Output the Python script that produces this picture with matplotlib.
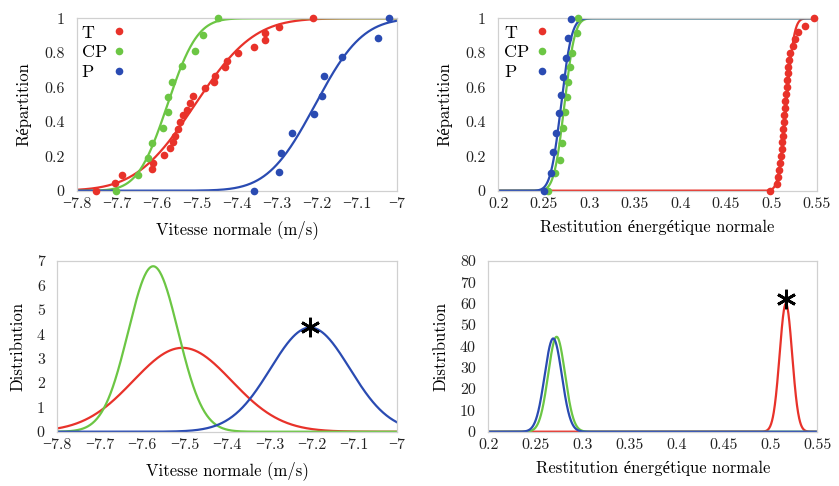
import math
import numpy as np
import matplotlib
matplotlib.use("Agg")
import matplotlib.pyplot as plt

plt.rcParams['font.family'] = ['cmr10', 'Liberation Serif']
plt.rcParams['axes.unicode_minus'] = True

# couleurs des trois familles
names = ['T', 'CP', 'P']
colors = ['#e8322a', '#6cc644', '#2a4bb2']

# vitesse normale : points de la répartition empirique
vit_T_x = [-7.754, -7.706, -7.689, -7.612, -7.611, -7.584, -7.569, -7.560, -7.555, -7.547,
           -7.543, -7.536, -7.526, -7.518, -7.509, -7.480, -7.457, -7.455, -7.430, -7.426,
           -7.397, -7.357, -7.330, -7.330, -7.294, -7.209]
vit_T_y = [0.0, 0.046, 0.09, 0.124, 0.159, 0.205, 0.25, 0.28, 0.318, 0.36,
           0.40, 0.44, 0.47, 0.51, 0.55, 0.595, 0.632, 0.665, 0.715, 0.75,
           0.797, 0.836, 0.874, 0.913, 0.952, 1.0]
vit_CP_x = [-7.703, -7.649, -7.622, -7.612, -7.585, -7.574, -7.572, -7.562, -7.538, -7.504,
            -7.486, -7.447]
vit_CP_y = [0.0, 0.09, 0.19, 0.275, 0.362, 0.455, 0.545, 0.632, 0.723, 0.81,
            0.905, 1.0]
vit_P_x = [-7.357, -7.294, -7.290, -7.263, -7.207, -7.188, -7.182, -7.138, -7.046, -7.018]
vit_P_y = [0.0, 0.11, 0.22, 0.333, 0.443, 0.551, 0.665, 0.774, 0.884, 1.0]

# restitution énergétique normale : points de la répartition empirique
res_T_x = [0.4987, 0.5060, 0.5075, 0.5090, 0.5100, 0.5110, 0.5115, 0.5120, 0.5125, 0.5130,
           0.5140, 0.5145, 0.5150, 0.5155, 0.5160, 0.5170, 0.5175, 0.5180, 0.5190, 0.5195,
           0.5205, 0.5240, 0.5260, 0.5290, 0.5370, 0.5470]
res_T_y = [0.0, 0.04, 0.08, 0.12, 0.16, 0.20, 0.24, 0.28, 0.32, 0.36,
           0.40, 0.44, 0.48, 0.52, 0.56, 0.60, 0.64, 0.68, 0.72, 0.76,
           0.80, 0.84, 0.88, 0.92, 0.955, 1.0]
res_CP_x = [0.2545, 0.2620, 0.2678, 0.2696, 0.2715, 0.2733, 0.2750, 0.2770, 0.2790, 0.2806,
            0.2860, 0.2880]
res_CP_y = [0.0, 0.10, 0.18, 0.275, 0.362, 0.455, 0.545, 0.632, 0.72, 0.797,
            0.913, 1.0]
res_P_x = [0.2502, 0.2576, 0.2598, 0.2635, 0.2670, 0.2686, 0.2708, 0.2744, 0.2763, 0.2796]
res_P_y = [0.0, 0.101, 0.226, 0.333, 0.449, 0.555, 0.661, 0.768, 0.884, 0.994]

# lois normales ajustées (moyenne, écart-type)
vit_mu = [-7.505, -7.574, -7.204]
vit_sigma = [0.116, 0.0588, 0.0934]
res_mu = [0.5167, 0.2727, 0.2691]
res_sigma = [0.00665, 0.00897, 0.00913]

# astérisques
vit_star = (-7.204, 4.3)
res_star = (0.5167, 62.0)

vit_xticks = [-7.8, -7.7, -7.6, -7.5, -7.4, -7.3, -7.2, -7.1, -7.0]
vit_xlabels = ['\u22127.8', '\u22127.7', '\u22127.6', '\u22127.5', '\u22127.4', '\u22127.3',
               '\u22127.2', '\u22127.1', '\u22127']
res_xticks = [0.2, 0.25, 0.3, 0.35, 0.4, 0.45, 0.5, 0.55]
res_xlabels = ['0.2', '0.25', '0.3', '0.35', '0.4', '0.45', '0.5', '0.55']
rep_yticks = [0, 0.2, 0.4, 0.6, 0.8, 1]
rep_ylabels = ['0', '0.2', '0.4', '0.6', '0.8', '1']

erf = np.frompyfunc(math.erf, 1, 1)


def cdf(x, mu, s):
    return 0.5 * (1 + erf((x - mu) / (s * math.sqrt(2))).astype(float))


def pdf(x, mu, s):
    return np.exp(-0.5 * ((x - mu) / s) ** 2) / (s * math.sqrt(2 * math.pi))


def style(ax):
    for sp in ax.spines.values():
        sp.set_color('#d0d0d0')
        sp.set_linewidth(0.9)
    ax.tick_params(length=0, labelsize=11.5, colors='#222222')


def legende(ax, x_txt, x_dot):
    # légende faite à la main : texte à gauche, points alignés en colonne
    for i, y in enumerate([0.915, 0.80, 0.685]):
        ax.text(x_txt, y, names[i], transform=ax.transAxes, fontsize=13,
                ha='left', va='center')
        ax.plot([x_dot], [y + 0.01], 'o', color=colors[i], ms=5.5, mec='none',
                transform=ax.transAxes)


fig = plt.figure(figsize=(8.39, 4.86), dpi=100)
ax_tl = fig.add_axes([0.0921, 0.6076, 0.3807, 0.3547])
ax_tr = fig.add_axes([0.5939, 0.6076, 0.3795, 0.3547])
ax_bl = fig.add_axes([0.0683, 0.1117, 0.4045, 0.3513])
ax_br = fig.add_axes([0.5820, 0.1117, 0.3920, 0.3513])

xv = np.linspace(-7.8, -7.0, 600)
xr = np.linspace(0.2, 0.55, 1500)

# répartitions
pts_vit = [(vit_T_x, vit_T_y), (vit_CP_x, vit_CP_y), (vit_P_x, vit_P_y)]
pts_res = [(res_T_x, res_T_y), (res_CP_x, res_CP_y), (res_P_x, res_P_y)]
for ax, xs, mus, sig, pts in [(ax_tl, xv, vit_mu, vit_sigma, pts_vit),
                              (ax_tr, xr, res_mu, res_sigma, pts_res)]:
    for i in range(3):
        ax.plot(xs, cdf(xs, mus[i], sig[i]), color=colors[i], lw=1.6, zorder=2)
    for i in range(3):
        ax.plot(pts[i][0], pts[i][1], 'o', color=colors[i], ms=5.5, mec='none',
                clip_on=False, zorder=3)
    ax.set_ylim(0, 1)
    ax.set_yticks(rep_yticks)
    ax.set_yticklabels(rep_ylabels)
    ax.set_ylabel('Répartition', fontsize=12, labelpad=9)
    style(ax)
legende(ax_tl, 0.014, 0.131)
legende(ax_tr, 0.018, 0.136)

# distributions
for i in range(3):
    ax_bl.plot(xv, pdf(xv, vit_mu[i], vit_sigma[i]), color=colors[i], lw=1.6)
    ax_br.plot(xr, pdf(xr, res_mu[i], res_sigma[i]), color=colors[i], lw=1.6)
ax_bl.plot([vit_star[0]], [vit_star[1]], marker=(6, 2, 0), color='black', ms=14, mew=2)
ax_br.plot([res_star[0]], [res_star[1]], marker=(6, 2, 0), color='black', ms=14, mew=2)
ax_bl.set_ylim(0, 7)
ax_bl.set_yticks(range(0, 8))
ax_br.set_ylim(0, 80)
ax_br.set_yticks(range(0, 81, 10))
for ax in (ax_bl, ax_br):
    ax.set_ylabel('Distribution', fontsize=12, labelpad=8)
    style(ax)

for ax in (ax_tl, ax_bl):
    ax.set_xlim(-7.8, -7.0)
    ax.set_xticks(vit_xticks)
    ax.set_xticklabels(vit_xlabels)
    ax.set_xlabel('Vitesse normale (m/s)', fontsize=12, labelpad=6)
for ax in (ax_tr, ax_br):
    ax.set_xlim(0.2, 0.55)
    ax.set_xticks(res_xticks)
    ax.set_xticklabels(res_xlabels)
    ax.set_xlabel('Restitution énergétique normale', fontsize=12, labelpad=6)

for ax in (ax_tl, ax_tr, ax_bl, ax_br):
    ax.tick_params(axis='x', pad=5)
    ax.tick_params(axis='y', pad=9)

fig.savefig('out.png', dpi=100)
